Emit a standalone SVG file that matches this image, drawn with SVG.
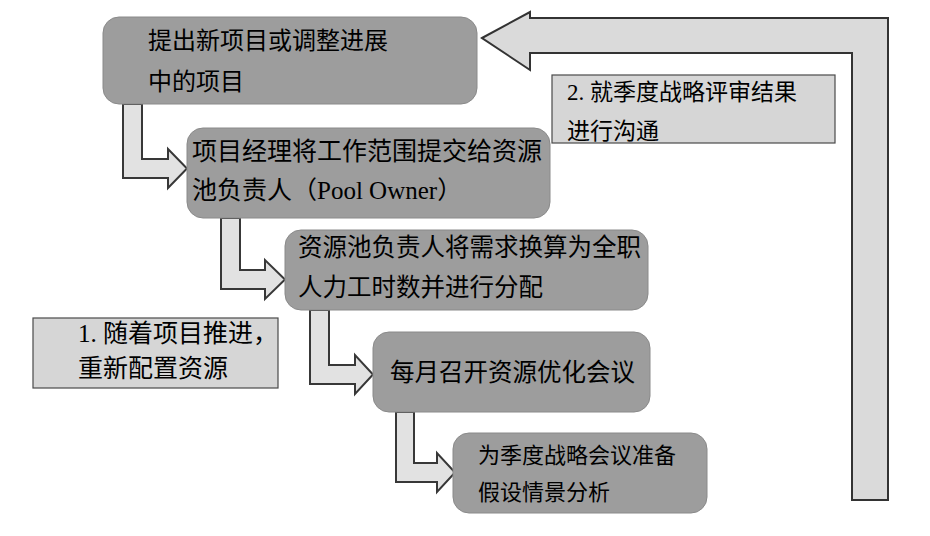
<svg xmlns="http://www.w3.org/2000/svg" width="930" height="536" viewBox="0 0 930 536">
<style>
  .step { fill: #9d9d9d; stroke: #8a8a8a; stroke-width: 1; }
  .note { fill: #d6d6d6; stroke: #4a4a4a; stroke-width: 1.2; }
  .conn { fill: #e2e2e2; stroke: #383838; stroke-width: 2; stroke-linejoin: miter; }
  .big { fill: #dadada; stroke: #333333; stroke-width: 2; stroke-linejoin: miter; }
  text { font-family: "Liberation Serif", "Noto Sans CJK SC", serif; fill: #000; }
</style>
<rect width="930" height="536" fill="#ffffff"/>

<g id="connectors">
  <path class="big" d="M482,38 L530,12 L530,18 L888,18 L888,500 L852,500 L852,53 L530,53 L530,70 Z"/>
  <path class="conn" d="M123,104 L142,104 L142,159 L168,159 L168,149 L187,168.5 L168,188 L168,178 L123,178 Z"/>
  <path class="conn" d="M221,218 L240,218 L240,270 L265,270 L265,260 L285,279.5 L265,299 L265,289 L221,289 Z"/>
  <path class="conn" d="M310,310 L329,310 L329,365 L355,365 L355,355 L373,374.5 L355,394 L355,384 L310,384 Z"/>
  <path class="conn" d="M396,412 L414,412 L414,463 L437,463 L437,453 L455,472.5 L437,492 L437,482 L396,482 Z"/>
</g>

<g id="node-propose">
  <rect class="step" x="103" y="17" width="374" height="87" rx="16"/>
  <text x="148" y="49" font-size="24">提出新项目或调整进展</text>
  <text x="148" y="90" font-size="24">中的项目</text>
</g>

<g id="node-submit">
  <rect class="step" x="187" y="128" width="363" height="90" rx="16"/>
  <text x="192" y="160" font-size="25">项目经理将工作范围提交给资源</text>
  <text x="192" y="199" font-size="25">池负责人（Pool Owner）</text>
</g>

<g id="node-convert">
  <rect class="step" x="285" y="230" width="363" height="80" rx="16"/>
  <text x="298" y="256" font-size="24.5">资源池负责人将需求换算为全职</text>
  <text x="298" y="296" font-size="24.5">人力工时数并进行分配</text>
</g>

<g id="node-monthly">
  <rect class="step" x="373" y="332" width="277" height="80" rx="16"/>
  <text x="390" y="381" font-size="24.5">每月召开资源优化会议</text>
</g>

<g id="node-quarterly">
  <rect class="step" x="453" y="433" width="254" height="80" rx="16"/>
  <text x="478" y="463" font-size="22">为季度战略会议准备</text>
  <text x="478" y="500" font-size="22">假设情景分析</text>
</g>

<g id="note-communicate">
  <rect class="note" x="552" y="75" width="283" height="68"/>
  <text x="567" y="100" font-size="23">2. 就季度战略评审结果</text>
  <text x="567" y="139" font-size="23">进行沟通</text>
</g>

<g id="note-reallocate">
  <rect class="note" x="33" y="318" width="245" height="70"/>
  <text x="78" y="342" font-size="25">1. 随着项目推进，</text>
  <text x="78" y="377" font-size="25">重新配置资源</text>
</g>
</svg>
